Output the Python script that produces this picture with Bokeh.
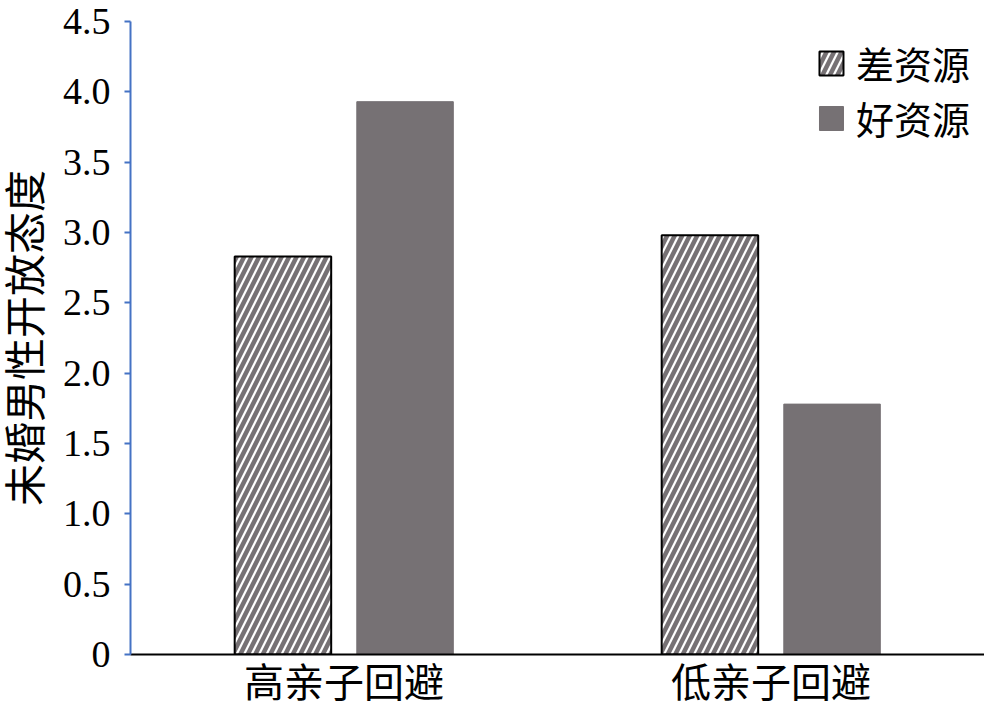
from bokeh.plotting import figure
from bokeh.models import ColumnDataSource, FactorRange, Range1d, FixedTicker, Legend, LegendItem
from bokeh.transform import dodge
from bokeh.embed import file_html
from bokeh.resources import INLINE

categories = ["高亲子回避", "低亲子回避"]
series_names = ["差资源", "好资源"]
poor_resource = [2.83, 2.98]
good_resource = [3.93, 1.78]
y_ticks = [0, 0.5, 1.0, 1.5, 2.0, 2.5, 3.0, 3.5, 4.0, 4.5]
y_tick_labels = ["0", "0.5", "1.0", "1.5", "2.0", "2.5", "3.0", "3.5", "4.0", "4.5"]
y_title = "未婚男性开放态度"

CJK = "Liberation Serif, Noto Sans CJK SC"
SERIF = "Liberation Serif"
GRAY = "#767174"

source = ColumnDataSource(data=dict(cat=categories, poor=poor_resource, good=good_resource))

p = figure(width=984, height=708, output_backend="svg", toolbar_location=None,
           x_range=FactorRange(factors=categories), y_range=Range1d(0, 4.5),
           min_border_left=123, min_border_right=0, min_border_top=21, min_border_bottom=0)

r1 = p.vbar(x=dodge("cat", -0.143, range=p.x_range), top="poor", width=0.226, source=source,
            fill_color="white", line_color="black", line_width=2,
            hatch_pattern="right_diagonal_line", hatch_color=GRAY, hatch_scale=15, hatch_weight=4.5)
r2 = p.vbar(x=dodge("cat", 0.143, range=p.x_range), top="good", width=0.226, source=source,
            fill_color=GRAY, line_color=GRAY, line_width=1)

legend = Legend(items=[LegendItem(label=series_names[0], renderers=[r1]),
                       LegendItem(label=series_names[1], renderers=[r2])],
                location="top_right", margin=14, padding=0, spacing=0,
                glyph_width=30, glyph_height=30, label_height=40, label_standoff=10,
                label_text_font=CJK, label_text_font_size="38px", label_text_color="black",
                label_text_line_height=0.8,
                border_line_color=None, background_fill_alpha=0)
p.add_layout(legend)

p.xgrid.grid_line_color = None
p.ygrid.grid_line_color = None
p.outline_line_color = None
p.background_fill_color = "white"

p.yaxis.ticker = FixedTicker(ticks=y_ticks)
p.yaxis.major_label_overrides = {t: l for t, l in zip(y_ticks, y_tick_labels)}
p.yaxis.axis_line_color = "#4472C4"
p.yaxis.axis_line_width = 2
p.yaxis.major_tick_line_color = "#4472C4"
p.yaxis.major_tick_line_width = 2
p.yaxis.major_tick_in = 0
p.yaxis.major_tick_out = 6
p.yaxis.minor_tick_line_color = None
p.yaxis.major_label_text_font = SERIF
p.yaxis.major_label_text_font_size = "38px"
p.yaxis.major_label_text_color = "black"
p.yaxis.major_label_standoff = 14
p.yaxis.axis_label = y_title
p.yaxis.axis_label_text_font = CJK
p.yaxis.axis_label_text_font_size = "42px"
p.yaxis.axis_label_text_font_style = "normal"
p.yaxis.axis_label_text_color = "black"
p.yaxis.axis_label_standoff = 10

p.xaxis.axis_line_color = "black"
p.xaxis.axis_line_width = 2
p.xaxis.major_tick_line_color = None
p.xaxis.minor_tick_line_color = None
p.xaxis.major_label_text_font = CJK
p.xaxis.major_label_text_font_size = "40px"
p.xaxis.major_label_text_color = "black"
p.xaxis.major_label_standoff = 0

open("out.html", "w").write(file_html(p, INLINE))
